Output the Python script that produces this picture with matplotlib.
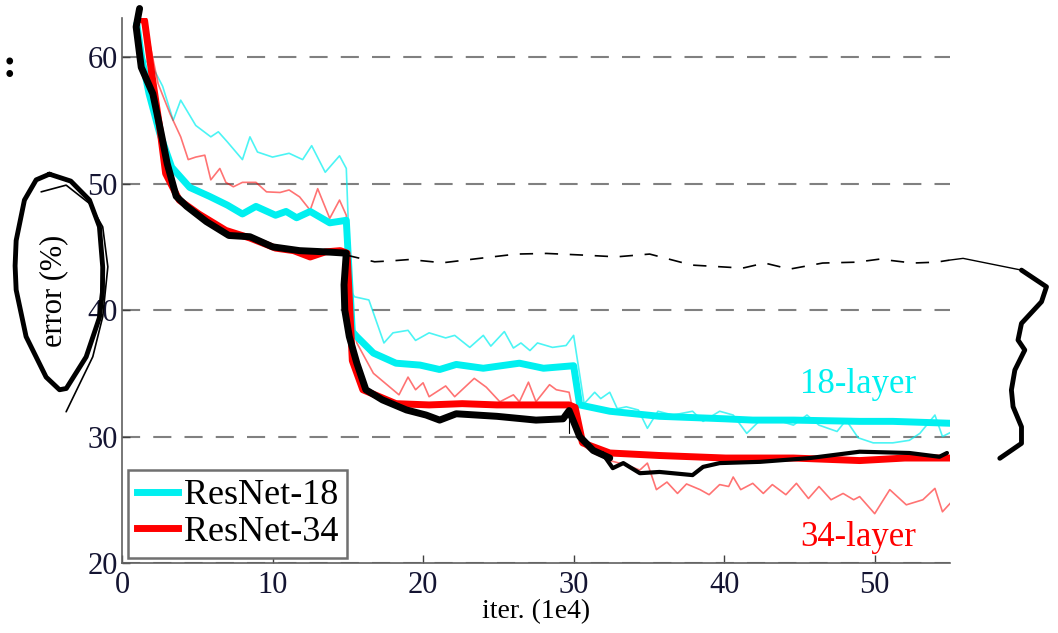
import matplotlib
matplotlib.use("Agg")
import matplotlib.pyplot as plt

plt.rcParams['font.family'] = ['Liberation Serif', 'DejaVu Serif']

# ResNet-18 / ResNet-34 curves (x in 1e4 iterations, y in %)
r18_val_x = [1.0, 1.3, 1.8, 2.5, 3.3, 4.5, 5.8, 7.0, 8.0, 8.9, 10.2, 10.9, 11.6, 12.5, 13.8, 14.9, 15.3, 15.6,
             16.7, 18.2, 19.8, 21.1, 22.2, 24.0, 26.4, 28.0, 30.0, 30.4, 32.4, 35.7, 40.1, 41.9, 44.6, 49.0,
             51.2, 55.0]
r18_val_y = [62.5, 60.0, 57.1, 54.0, 51.3, 49.7, 49.0, 48.3, 47.6, 48.2, 47.5, 47.8, 47.3, 47.8, 46.9, 47.1, 38.3,
             37.9, 36.6, 35.8, 35.65, 35.3, 35.7, 35.4, 35.8, 35.4, 35.6, 32.5, 32.0, 31.6, 31.4, 31.3, 31.3,
             31.2, 31.2, 31.05]

r34_val_x = [1.2, 1.5, 2.0, 2.5, 2.9, 3.8, 5.1, 6.9, 8.5, 10.2, 11.4, 12.5, 13.5, 14.5, 14.95, 15.3, 16.0, 18.2,
             20.4, 22.6, 24.9, 27.1, 29.7, 30.1, 30.6, 32.4, 35.7, 40.1, 44.6, 49.0, 52.0, 55.0]
r34_val_y = [63.0, 62.9, 58.5, 54.5, 50.8, 48.7, 47.6, 46.3, 45.7, 44.9, 44.7, 44.2, 44.6, 44.7, 44.5, 36.0, 33.7,
             32.6, 32.5, 32.6, 32.5, 32.5, 32.5, 32.3, 29.5, 28.7, 28.5, 28.3, 28.3, 28.1, 28.3, 28.3]

r18_train_x = [1.0, 1.3, 2.05, 2.7, 3.4, 3.9, 4.9, 5.9, 6.4, 7.0, 8.0, 8.5, 9.0, 10.0, 11.1, 12.0, 12.6, 13.5, 14.45,
               14.9, 15.2, 15.45, 16.4, 17.4, 18.0, 19.0, 19.5, 20.4, 21.5, 22.1, 23.1, 24.0, 24.5, 25.4, 26.0,
               26.5, 27.1, 27.6, 28.6, 29.5, 30.0, 30.7, 31.4, 31.8, 32.4, 32.9, 33.5, 34.3, 34.9, 35.6, 36.6,
               37.9, 38.6, 39.7, 40.6, 41.5, 42.4, 43.5, 44.6, 45.5, 46.3, 47.5, 48.1, 48.9, 49.9, 51.2, 52.3,
               53.0, 54.0, 54.5, 55.0]
r18_train_y = [62.5, 60.0, 59.2, 57.7, 55.0, 56.6, 54.6, 53.7, 54.1, 53.3, 51.9, 53.7, 52.5, 52.1, 52.4, 51.9, 53.0,
               50.9, 52.2, 51.2, 41.5, 41.05, 40.8, 37.4, 38.2, 38.4, 37.6, 38.2, 37.8, 38.0, 37.05, 38.0, 37.15,
               38.3, 37.0, 37.4, 36.8, 37.4, 37.05, 37.2, 38.0, 32.6, 33.5, 33.0, 33.5, 32.2, 32.35, 32.1, 30.65,
               32.0, 31.7, 32.0, 31.2, 32.0, 31.7, 30.25, 31.3, 31.3, 30.9, 31.7, 30.9, 30.4, 31.3, 29.9, 29.5,
               29.5, 29.7, 30.25, 31.7, 30.0, 30.3]

r34_train_x = [1.2, 1.7, 2.4, 3.2, 3.9, 4.4, 4.9, 5.5, 5.9, 6.5, 6.9, 7.4, 8.0, 8.9, 9.6, 10.5, 11.1, 11.8, 12.5,
               13.0, 13.8, 14.45, 14.9, 15.2, 15.6, 16.7, 18.4, 19.0, 19.5, 20.0, 20.4, 21.5, 22.1, 23.4, 24.2,
               25.1, 26.0, 26.4, 27.0, 27.5, 28.4, 28.85, 29.7, 30.4, 31.3, 32.4, 33.5, 34.4, 34.9, 35.5, 36.2,
               36.9, 37.5, 38.4, 39.0, 39.7, 40.3, 40.6, 41.1, 41.9, 42.6, 43.2, 44.1, 44.8, 45.6, 46.3, 47.1,
               47.9, 48.6, 49.0, 50.0, 51.0, 52.1, 53.2, 54.0, 54.5, 55.0]
r34_train_y = [63.0, 61.9, 57.9, 55.5, 53.7, 51.9, 52.1, 52.25, 50.3, 51.2, 50.1, 49.75, 50.1, 50.1, 49.35, 49.3,
               49.5, 48.95, 47.9, 49.6, 47.25, 48.7, 47.5, 40.0, 37.4, 35.0, 33.3, 34.7, 33.7, 34.25, 33.15, 34.0,
               33.15, 34.6, 33.9, 32.75, 33.3, 32.75, 34.3, 32.75, 34.1, 33.7, 33.5, 29.5, 28.7, 28.1, 27.75,
               27.35, 27.9, 25.8, 26.4, 25.5, 26.25, 25.8, 25.4, 26.2, 26.05, 26.8, 25.8, 26.3, 25.5, 26.2, 25.4,
               26.3, 25.1, 26.05, 25.0, 25.5, 25.0, 25.25, 23.9, 25.8, 24.6, 25.0, 25.9, 24.05, 24.7]

# hand-drawn pen marks on top of the chart
pen_thick_x = [1.17, 0.94, 1.28, 2.05, 2.6, 3.0, 3.6, 4.3, 5.6, 7.1, 8.5, 10.0, 11.8, 13.6, 14.9, 14.75, 14.8, 15.1,
               15.6, 16.2, 17.3, 18.9, 20.2, 21.1, 22.2, 24.9, 27.5, 29.3, 29.7, 30.4, 31.3, 32.4]
pen_thick_y = [63.85, 62.4, 59.2, 57.1, 54.0, 51.6, 49.0, 48.2, 47.0, 45.9, 45.8, 45.0, 44.7, 44.6, 44.5, 42.0, 40.0,
               37.9, 35.8, 33.7, 32.9, 32.1, 31.7, 31.3, 31.8, 31.6, 31.3, 31.4, 32.05, 30.0, 28.9, 28.3]
pen_thin_x = [31.9, 32.6, 33.3, 34.4, 35.7, 37.9, 38.6, 39.7, 42.4, 45.7, 49.0, 52.3, 54.3, 54.8]
pen_thin_y = [28.7, 27.5, 27.9, 27.1, 27.2, 26.95, 27.6, 27.9, 28.0, 28.3, 28.8, 28.7, 28.4, 28.7]
pen_tick_x = [29.7, 29.7]
pen_tick_y = [31.96, 30.25]
pen_dash_x = [14.9, 16.78, 17.99, 19.1, 21.3, 23.75, 26.2, 28.19, 30.62, 32.84, 35.05, 37.84, 41.23, 42.69, 44.35,
              46.54, 48.8, 50.33, 52.52, 54.1, 54.96]
pen_dash_y = [44.35, 43.82, 43.9, 44.0, 43.74, 44.09, 44.43, 44.48, 44.35, 44.21, 44.43, 43.56, 43.32, 43.72, 43.24,
              43.72, 43.79, 44.03, 43.72, 43.79, 43.95]
pen_link_x = [54.96, 55.87, 59.75]
pen_link_y = [43.95, 44.09, 43.16]
brace_x = [59.75, 61.41, 61.08, 59.75, 59.52, 59.97, 59.31, 59.08, 59.19, 59.75, 59.75, 58.31]
brace_y = [43.16, 41.84, 40.66, 38.95, 37.63, 36.84, 35.26, 33.68, 32.36, 30.77, 29.46, 28.28]
loop_x = [-4.82, -3.4, -2.16, -1.5, -1.28, -1.3, -1.5, -2.38, -3.7, -4.15, -5.04, -6.37, -7.03, -7.1, -7.03, -6.48,
          -5.7, -4.82]
loop_y = [50.75, 50.2, 48.7, 46.6, 43.4, 41.4, 39.4, 36.3, 33.8, 33.7, 34.7, 37.9, 41.6, 43.5, 45.5, 48.7, 50.3,
          50.75]
loop2_x = [-5.37, -3.71, -2.16, -1.28, -0.94, -1.28, -1.94, -3.71]
loop2_y = [49.35, 49.88, 48.43, 46.58, 43.42, 39.47, 36.31, 31.96]

CYAN = '#00f0f0'
RED = '#ff0000'

fig = plt.figure(figsize=(10.58, 6.33), dpi=100)
ax = fig.add_axes([0.1153, 0.1106, 0.7826, 0.861])

ax.plot(r18_train_x, r18_train_y, color=CYAN, lw=1.2, alpha=0.7)
ax.plot(r34_train_x, r34_train_y, color=RED, lw=1.2, alpha=0.55)
ax.plot(r18_val_x, r18_val_y, color=CYAN, lw=5, label='ResNet-18', solid_joinstyle='round')
ax.plot(r34_val_x, r34_val_y, color=RED, lw=5, label='ResNet-34', solid_joinstyle='round')

pen = dict(color='black', clip_on=False, solid_capstyle='round', solid_joinstyle='round')
ax.plot(pen_thick_x, pen_thick_y, lw=5, **pen)
ax.plot(pen_thin_x, pen_thin_y, lw=3, **pen)
ax.plot(pen_tick_x, pen_tick_y, lw=0.8, **pen)
ax.plot(pen_dash_x, pen_dash_y, lw=1.2, color='black', clip_on=False, linestyle=(0, (8, 7)))
ax.plot(pen_link_x, pen_link_y, lw=1.0, **pen)
ax.plot(brace_x, brace_y, lw=3.5, **pen)
ax.plot(loop_x, loop_y, lw=3.5, **pen)
ax.plot(loop2_x, loop2_y, lw=1.2, **pen)

ax.set_xlim(0, 55)
ax.set_ylim(20, 63.1)
ax.set_xticks([0, 10, 20, 30, 40, 50])
ax.set_yticks([20, 30, 40, 50, 60])
ax.yaxis.grid(True, color='#808080', lw=1.5, linestyle=(0, (8.7, 6.3)))
ax.set_axisbelow(True)

for side in ['top', 'right']:
    ax.spines[side].set_visible(False)
for side in ['left', 'bottom']:
    ax.spines[side].set_color('#606060')
    ax.spines[side].set_linewidth(1.2)

ax.tick_params(direction='in', length=6, width=1, color='#404040', labelsize=22,
               labelcolor='#141432', pad=3)
ax.tick_params(axis='x', pad=6)

ax.set_xlabel('iter. (1e4)', fontsize=20, labelpad=-1)
ax.set_ylabel('error (%)', fontsize=22)
ax.yaxis.set_label_coords(-0.065, 0.5)

ax.text(48.9, 34.1, '18-layer', color=CYAN, fontsize=25, ha='center', va='center')
ax.text(48.9, 22.0, '34-layer', color=RED, fontsize=25, ha='center', va='center')

leg = ax.legend(loc='lower left', bbox_to_anchor=(0.007, 0.009), borderaxespad=0, fontsize=26,
                handlelength=1.15, handletextpad=0.15, labelspacing=0.1, borderpad=0.25,
                fancybox=False, framealpha=1)
leg.get_frame().set_edgecolor('#707070')
leg.get_frame().set_linewidth(1.8)

fig.text(0.009, 0.894, ':', fontsize=30, fontweight='bold', ha='center', va='center')

fig.savefig('out.png', dpi=100)
